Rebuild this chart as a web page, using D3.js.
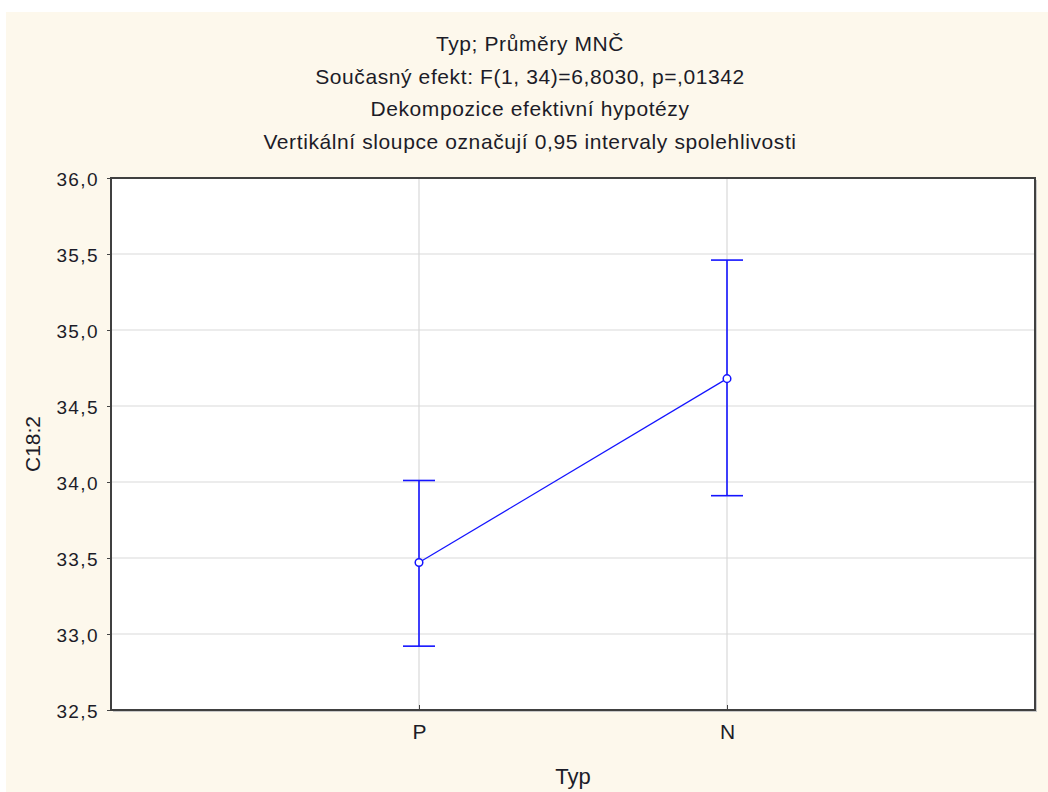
<!DOCTYPE html>
<html>
<head>
<meta charset="utf-8">
<script src="https://cdn.jsdelivr.net/npm/d3@7"></script>
<style>
  html, body { margin: 0; padding: 0; background: #ffffff; }
  svg { display: block; }
  text { font-family: "Liberation Sans", Arial, sans-serif; fill: #1c1c28; }
</style>
</head>
<body>
<script>
// Least-squares means of C18:2 by type with 0.95 confidence intervals
const categories = ["P", "N"];
const means = [33.47, 34.68];
const lower = [32.92, 33.91];
const upper = [34.01, 35.46];
const yTicks = [32.5, 33.0, 33.5, 34.0, 34.5, 35.0, 35.5, 36.0];
const titleLines = [
  "Typ; Průměry MNČ",
  "Současný efekt: F(1, 34)=6,8030, p=,01342",
  "Dekompozice efektivní hypotézy",
  "Vertikální sloupce označují 0,95 intervaly spolehlivosti"
];
const xTitle = "Typ";
const yTitle = "C18:2";

const W = 1048, H = 792;
const plot = { left: 111, top: 178, right: 1035, bottom: 710 };

const svg = d3.select("body").append("svg")
  .attr("width", W).attr("height", H);

// Panel background
svg.append("rect")
  .attr("x", 6).attr("y", 12)
  .attr("width", W - 6).attr("height", H - 12)
  .attr("fill", "#fdf8ec");

const x = d3.scalePoint()
  .domain(categories)
  .range([plot.left, plot.right])
  .padding(1);

const y = d3.scaleLinear()
  .domain([32.5, 36.0])
  .range([plot.bottom, plot.top]);

const fmt = v => d3.format(".1f")(v).replace(".", ",");

// Frame shadow and plot area
svg.append("rect")
  .attr("x", plot.left + 2).attr("y", plot.top + 2)
  .attr("width", plot.right - plot.left).attr("height", plot.bottom - plot.top)
  .attr("fill", "#c8c8c8");
svg.append("rect")
  .attr("x", plot.left).attr("y", plot.top)
  .attr("width", plot.right - plot.left).attr("height", plot.bottom - plot.top)
  .attr("fill", "#ffffff");

// Grid lines
const grid = svg.append("g");
grid.selectAll("line.h")
  .data(yTicks.filter(t => t > 32.5 && t < 36.0))
  .join("line")
  .attr("x1", plot.left).attr("x2", plot.right)
  .attr("y1", d => y(d)).attr("y2", d => y(d))
  .attr("stroke", "#d9d9d9").attr("stroke-width", 1.2);
grid.selectAll("line.v")
  .data(categories)
  .join("line")
  .attr("x1", d => x(d)).attr("x2", d => x(d))
  .attr("y1", plot.top).attr("y2", plot.bottom)
  .attr("stroke", "#d9d9d9").attr("stroke-width", 1.2);

// Axes
const yAxis = svg.append("g")
  .attr("transform", `translate(${plot.left},0)`)
  .call(d3.axisLeft(y).tickValues(yTicks).tickFormat(fmt).tickSize(4).tickPadding(8));
yAxis.select(".domain").remove();
yAxis.selectAll(".tick line").attr("stroke", "#444");
yAxis.selectAll(".tick text")
  .style("font-size", "19px").style("letter-spacing", "1.4px")
  .attr("fill", "#1c1c28").attr("dy", "0.4em");

const xAxis = svg.append("g")
  .attr("transform", `translate(0,${plot.bottom})`)
  .call(d3.axisBottom(x).tickSize(-5).tickPadding(14));
xAxis.select(".domain").remove();
xAxis.selectAll(".tick line").attr("stroke", "#444");
xAxis.selectAll(".tick text")
  .style("font-size", "21px").attr("fill", "#1c1c28");

// Frame border
svg.append("rect")
  .attr("x", plot.left).attr("y", plot.top)
  .attr("width", plot.right - plot.left).attr("height", plot.bottom - plot.top)
  .attr("fill", "none").attr("stroke", "#404040").attr("stroke-width", 2);

// Mean line
const blue = "#1414ff";
svg.append("path")
  .datum(categories.map((c, i) => [x(c), y(means[i])]))
  .attr("d", d3.line())
  .attr("fill", "none").attr("stroke", blue).attr("stroke-width", 1.2);

// Confidence interval whiskers
const bars = svg.append("g").attr("stroke", blue).attr("stroke-width", 1.6);
categories.forEach((c, i) => {
  const cx = x(c);
  bars.append("line").attr("x1", cx).attr("x2", cx)
    .attr("y1", y(lower[i])).attr("y2", y(upper[i]));
  bars.append("line").attr("x1", cx - 16).attr("x2", cx + 16)
    .attr("y1", y(upper[i])).attr("y2", y(upper[i]));
  bars.append("line").attr("x1", cx - 16).attr("x2", cx + 16)
    .attr("y1", y(lower[i])).attr("y2", y(lower[i]));
});

// Mean markers
svg.selectAll("circle.mean")
  .data(categories)
  .join("circle")
  .attr("cx", d => x(d))
  .attr("cy", (d, i) => y(means[i]))
  .attr("r", 3.8)
  .attr("fill", "#ffffff").attr("stroke", blue).attr("stroke-width", 1.5);

// Titles
svg.selectAll("text.title")
  .data(titleLines)
  .join("text")
  .attr("class", "title")
  .attr("x", 530)
  .attr("y", (d, i) => 51 + i * 32.7)
  .attr("text-anchor", "middle")
  .style("font-size", "21px")
  .style("letter-spacing", "0.6px")
  .text(d => d);

svg.append("text")
  .attr("x", (plot.left + plot.right) / 2)
  .attr("y", 784)
  .attr("text-anchor", "middle")
  .style("font-size", "22px")
  .text(xTitle);

svg.append("text")
  .attr("transform", `translate(40,${(plot.top + plot.bottom) / 2}) rotate(-90)`)
  .attr("text-anchor", "middle")
  .style("font-size", "21px")
  .text(yTitle);
</script>
</body>
</html>
